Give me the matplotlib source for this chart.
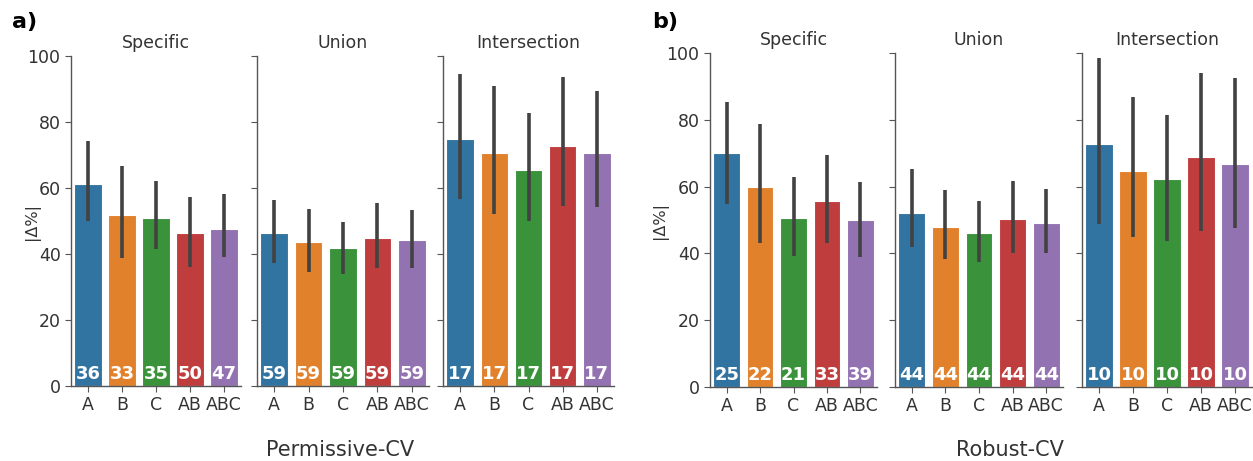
import numpy as np
import matplotlib
matplotlib.use("Agg")
from matplotlib import pyplot as plt
from matplotlib.colors import to_rgb
import colorsys

cats = ["A", "B", "C", "AB", "ABC"]
groups = ["Specific", "Union", "Intersection"]

# panel a) Permissive-CV
perm_mean = [[61.3, 51.7, 51.0, 46.3, 47.7],
             [46.4, 43.6, 41.8, 44.9, 44.1],
             [74.8, 70.6, 65.4, 72.6, 70.5]]
perm_lo = [[49.9, 38.9, 41.5, 36.0, 39.0],
           [37.3, 34.6, 33.9, 35.7, 35.8],
           [56.7, 52.2, 49.9, 54.5, 54.1]]
perm_hi = [[74.1, 66.7, 62.1, 57.4, 58.2],
           [56.5, 53.7, 49.7, 55.6, 53.2],
           [94.6, 90.9, 82.7, 93.6, 89.5]]
perm_n = [[36, 33, 35, 50, 47],
          [59, 59, 59, 59, 59],
          [17, 17, 17, 17, 17]]

# panel b) Robust-CV
rob_mean = [[70.0, 60.0, 50.6, 55.7, 50.0],
            [52.2, 47.8, 46.0, 50.2, 49.0],
            [72.8, 64.7, 62.4, 68.8, 66.8]]
rob_lo = [[54.7, 43.2, 39.3, 43.0, 38.8],
          [42.0, 38.3, 37.3, 40.0, 40.0],
          [48.8, 45.0, 43.7, 46.8, 47.5]]
rob_hi = [[85.2, 78.8, 62.8, 69.5, 61.5],
          [65.2, 59.0, 55.7, 61.7, 59.2],
          [98.5, 86.8, 81.4, 93.9, 92.4]]
rob_n = [[25, 22, 21, 33, 39],
         [44, 44, 44, 44, 44],
         [10, 10, 10, 10, 10]]


def desat(c, s=0.75):
    h, l, sat = colorsys.rgb_to_hls(*to_rgb(c))
    return colorsys.hls_to_rgb(h, l, sat * s)


colors = [desat(c) for c in ["#1f77b4", "#ff7f0e", "#2ca02c", "#d62728", "#9467bd"]]

W, H = 1253, 461
fig = plt.figure(figsize=(W / 100, H / 100), dpi=100)


def px_axes(x0, x1, y0, y1):
    return fig.add_axes([x0 / W, 1 - y1 / H, (x1 - x0) / W, (y1 - y0) / H])


def draw_panel(lefts, rights, ytop, ybot, means, lo, hi, ns, xlabel, xlab_x, letter, letter_x, ylab_x):
    x = np.arange(len(cats))
    for i, g in enumerate(groups):
        ax = px_axes(lefts[i], rights[i], ytop, ybot)
        m = np.array(means[i])
        err = np.array([m - np.array(lo[i]), np.array(hi[i]) - m])
        ax.bar(x, m, width=0.8, color=colors, edgecolor="white", linewidth=0.8)
        ax.errorbar(x, m, yerr=err, fmt="none", ecolor="#424242", elinewidth=2.6, capsize=0)
        for xi, n in zip(x, ns[i]):
            ax.text(xi, 0.8, str(n), ha="center", va="bottom", color="white",
                    fontsize=13, fontweight="bold")
        ax.set_xlim(-0.5, 4.5)
        ax.set_ylim(0, 100)
        ax.set_xticks(x)
        ax.set_xticklabels(cats, fontsize=11.5, color="#333333")
        ax.set_yticks([0, 20, 40, 60, 80, 100])
        for s in ["top", "right"]:
            ax.spines[s].set_visible(False)
        for s in ["left", "bottom"]:
            ax.spines[s].set_color("#555555")
            ax.spines[s].set_linewidth(1.0)
        ax.tick_params(colors="#555555", labelcolor="#333333", labelsize=12.5, length=4)
        ax.set_title(g, fontsize=12.5, color="#333333", pad=6)
        if i == 0:
            ax.set_ylabel("|\u0394%|", fontsize=11.5, color="#333333")
            ax.yaxis.set_label_coords((ylab_x - lefts[0]) / (rights[0] - lefts[0]), 0.5)
        else:
            ax.set_yticklabels([])
    fig.text(xlab_x / W, 1 - 450 / H, xlabel, ha="center", va="center",
             fontsize=15, color="#333333")
    fig.text(letter_x / W, 1 - 22 / H, letter, ha="left", va="center",
             fontsize=16, fontweight="bold")


draw_panel([71, 257, 443], [241, 429, 614], 56, 386,
           perm_mean, perm_lo, perm_hi, perm_n, "Permissive-CV", 340, "a)", 12, 40)
draw_panel([710, 895, 1082], [877, 1063, 1252], 53, 387,
           rob_mean, rob_lo, rob_hi, rob_n, "Robust-CV", 1010, "b)", 652, 668)

fig.savefig("out.png", dpi=100)
